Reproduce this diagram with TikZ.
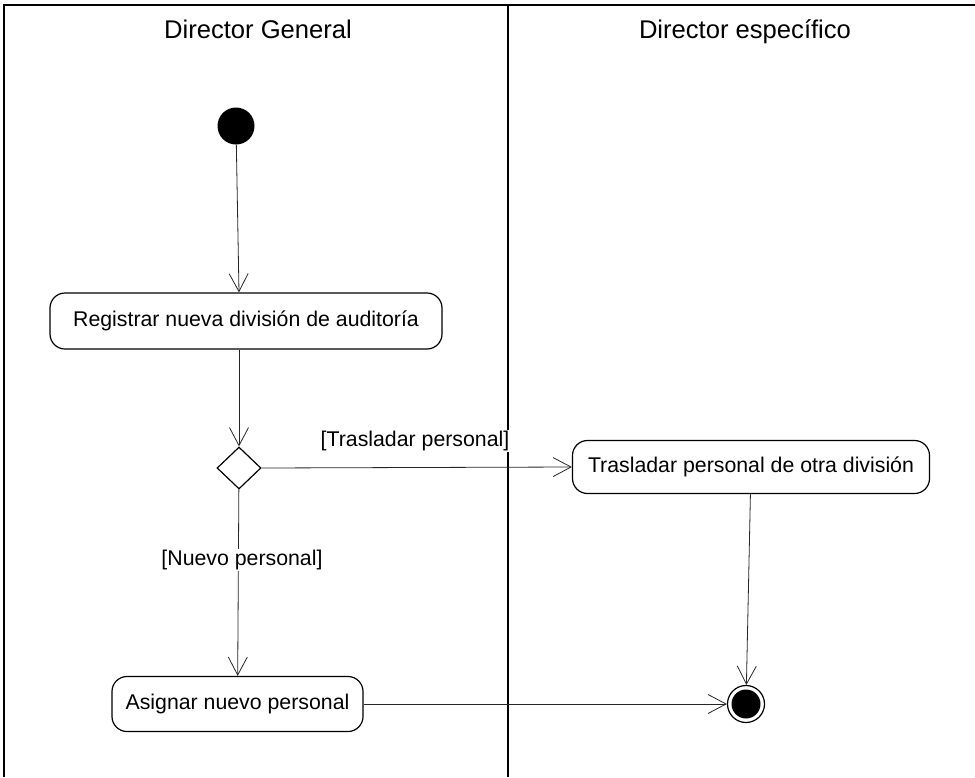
\documentclass[tikz,border=0pt]{standalone}
\usepackage{fontspec}
\setmainfont{Liberation Sans}
\usepackage{tikz}
\usetikzlibrary{arrows.meta,positioning,shapes.geometric}

\begin{document}
\begin{tikzpicture}[x=1pt,y=-1pt,
  lane/.style={line width=1.4pt},
  lanetitle/.style={anchor=base,font=\fontsize{25.6}{30}\selectfont},
  act/.style={draw,rounded corners=15pt,line width=1.2pt,inner sep=0pt,font=\fontsize{21.3}{25}\selectfont},
  flow/.style={line width=0.8pt,black!85,-{Straight Barb[length=18pt,width=19pt]}},
  guard/.style={fill=white,inner sep=1pt,font=\fontsize{21.3}{25}\selectfont}]
\useasboundingbox (0,0) rectangle (975,777);
% swimlanes
\draw[lane] (4,777) -- (4,5) -- (975,5);
\draw[lane] (508,5) -- (508,777);
\node[lanetitle] (laneDG) at (258,38) {Director General};
\node[lanetitle] (laneDE) at (745,38) {Director específico};
% nodes
\node[circle,fill=black,minimum size=37pt,inner sep=0pt] (start) at (236,126) {};
\node[act,minimum width=392pt,minimum height=56pt] (reg) at (246,321) {Registrar nueva división de auditoría};
\node[diamond,draw,line width=1.2pt,minimum width=44pt,minimum height=42pt,inner sep=0pt] (dec) at (239,468) {};
\node[act,minimum width=357pt,minimum height=53pt] (tras) at (751,467) {Trasladar personal de otra división};
\node[act,minimum width=251pt,minimum height=55pt] (asig) at (237.5,704) {Asignar nuevo personal};
\node[circle,draw,line width=1.2pt,minimum size=37pt,inner sep=0pt,
  path picture={\fill (path picture bounding box.center) circle (14.5);}] (fin) at (746,704) {};
% flows
\draw[flow] (start) -- (reg.north -| dec);
\draw[flow] (reg.south -| dec) -- (dec.north);
\draw[flow] (dec.east) -- (tras.west);
\draw[flow] (dec) -- (asig);
\draw[flow] (tras) -- (fin);
\draw[flow] (asig) -- (fin);
% guards
\node[guard] (gTras) at (415,441) {[Trasladar personal]};
\node[guard] (gNuevo) at (242,560) {[Nuevo personal]};
\end{tikzpicture}
\end{document}
